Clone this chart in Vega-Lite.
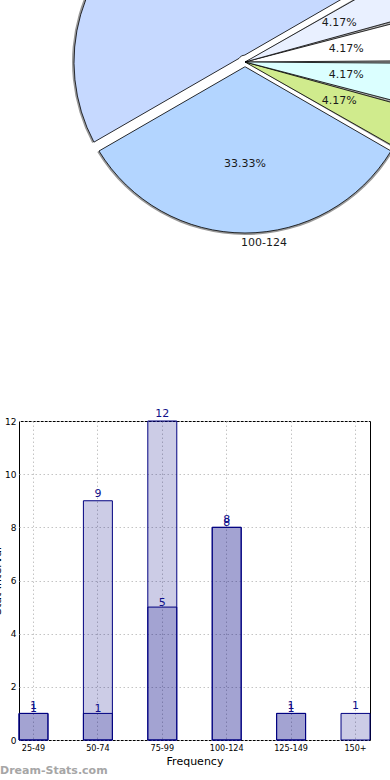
{
  "$schema": "https://vega.github.io/schema/vega-lite/v6.json",
  "background": "white",
  "padding": {"top": -297, "left": -9, "right": -81, "bottom": 0},
  "bounds": "flush",
  "spacing": 0,
  "config": {
    "font": "DejaVu Sans",
    "view": {"stroke": null},
    "axis": {"labelColor": "black", "titleColor": "black", "titleFontWeight": "normal"}
  },
  "datasets": {
    "pie": [
      {"range": "25-49", "n": 1, "pct": "4.17%"},
      {"range": "50-74", "n": 1, "pct": "4.17%"},
      {"range": "75-99", "n": 12, "pct": "50.00%"},
      {"range": "100-124", "n": 8, "pct": "33.33%"},
      {"range": "125-149", "n": 1, "pct": "4.17%"},
      {"range": "150+", "n": 1, "pct": "4.17%"}
    ],
    "bars": [
      {"range": "25-49", "a": 1, "b": 1},
      {"range": "50-74", "a": 9, "b": 1},
      {"range": "75-99", "a": 12, "b": 5},
      {"range": "100-124", "a": 8, "b": 8},
      {"range": "125-149", "a": 1, "b": 1},
      {"range": "150+", "a": 1, "b": null}
    ]
  },
  "vconcat": [
    {
      "width": 452,
      "height": 718,
      "data": {"name": "pie"},
      "transform": [
        {"window": [{"op": "row_number", "as": "k"}]},
        {"stack": "n", "groupby": [], "sort": [{"field": "k", "order": "descending"}], "as": ["t0", "t1"]}
      ],
      "layer": [
        {
          "transform": [{"filter": "datum.range === '75-99'"}],
          "mark": {"type": "arc", "outerRadius": 173, "innerRadius": 7, "padAngle": 0.0714, "fill": "#9a9a9a"},
          "encoding": {
            "theta": {"field": "t0", "type": "quantitative", "scale": {"range": [1.5708, 7.854], "zero": true, "nice": false}},
            "theta2": {"field": "t1"}
          }
        },
        {
          "transform": [{"filter": "datum.range === '100-124'"}],
          "mark": {"type": "arc", "outerRadius": 173, "innerRadius": 5, "padAngle": 0.0476, "fill": "#9a9a9a"},
          "encoding": {
            "theta": {"field": "t0", "type": "quantitative", "scale": {"range": [1.5708, 7.854], "zero": true, "nice": false}},
            "theta2": {"field": "t1"}
          }
        },
        {
          "transform": [{"filter": "datum.range !== '75-99' && datum.range !== '100-124'"}],
          "mark": {"type": "arc", "outerRadius": 173, "fill": "#9a9a9a"},
          "encoding": {
            "theta": {"field": "t0", "type": "quantitative", "scale": {"range": [1.5708, 7.854], "zero": true, "nice": false}},
            "theta2": {"field": "t1"}
          }
        },
        {
          "transform": [{"filter": "datum.range === '75-99'"}],
          "mark": {"type": "arc", "outerRadius": 171, "innerRadius": 7, "padAngle": 0.0714, "stroke": "black", "strokeWidth": 0.8},
          "encoding": {
            "theta": {"field": "t0", "type": "quantitative", "scale": {"range": [1.5708, 7.854], "zero": true, "nice": false}},
            "theta2": {"field": "t1"},
            "color": {"field": "range", "type": "nominal", "legend": null,
              "scale": {"domain": ["25-49", "50-74", "75-99", "100-124", "125-149", "150+"],
                        "range": ["#ffffff", "#e9f0ff", "#c6d9ff", "#b3d5ff", "#d0eb8d", "#dbffff"]}}
          }
        },
        {
          "transform": [{"filter": "datum.range === '100-124'"}],
          "mark": {"type": "arc", "outerRadius": 171, "innerRadius": 5, "padAngle": 0.0476, "stroke": "black", "strokeWidth": 0.8},
          "encoding": {
            "theta": {"field": "t0", "type": "quantitative", "scale": {"range": [1.5708, 7.854], "zero": true, "nice": false}},
            "theta2": {"field": "t1"},
            "color": {"field": "range", "type": "nominal", "legend": null}
          }
        },
        {
          "transform": [{"filter": "datum.range !== '75-99' && datum.range !== '100-124'"}],
          "mark": {"type": "arc", "outerRadius": 171, "padAngle": 0.015, "stroke": "black", "strokeWidth": 0.8},
          "encoding": {
            "theta": {"field": "t0", "type": "quantitative", "scale": {"range": [1.5708, 7.854], "zero": true, "nice": false}},
            "theta2": {"field": "t1"},
            "color": {"field": "range", "type": "nominal", "legend": null}
          }
        },
        {
          "mark": {"type": "text", "radius": 102, "fontSize": 11, "fill": "#1a1a1a"},
          "encoding": {
            "theta": {"field": "n", "type": "quantitative", "stack": true, "scale": {"range": [1.5708, 7.854], "zero": true, "nice": false}},
            "order": {"field": "k", "sort": "descending"},
            "text": {"field": "pct"}
          }
        },
        {
          "mark": {"type": "text", "radius": 181, "fontSize": 11, "fill": "#1a1a1a", "align": "left", "baseline": "middle", "dx": -4},
          "encoding": {
            "theta": {"field": "n", "type": "quantitative", "stack": true, "scale": {"range": [1.5708, 7.854], "zero": true, "nice": false}},
            "order": {"field": "k", "sort": "descending"},
            "text": {"field": "range"}
          }
        }
      ]
    },
    {
      "width": 351,
      "height": 319,
      "view": {"stroke": "black", "strokeWidth": 1},
      "data": {"name": "bars"},
      "title": {"text": "Dream-Stats.com", "orient": "bottom", "anchor": "start", "frame": "group", "dx": -19, "offset": -1, "fontSize": 11, "fontWeight": "bold", "color": "#a6a6a6"},
      "encoding": {
        "x": {
          "field": "range", "type": "nominal", "sort": null,
          "scale": {"paddingInner": 0.55, "paddingOuter": 0},
          "axis": {"title": "Frequency", "labelAngle": 0, "labelFontSize": 9, "labelFont": "DejaVu Sans Condensed", "ticks": false, "labelPadding": 3, "titleFontSize": 11, "titlePadding": 3, "grid": true, "gridDash": [1.5, 2.5], "gridColor": "#c4c4c4", "bandPosition": 0.5, "domain": false}
        }
      },
      "layer": [
        {
          "mark": {"type": "bar", "fill": "#000080", "fillOpacity": 0.2, "stroke": "#000080", "strokeWidth": 1},
          "encoding": {
            "y": {"field": "a", "type": "quantitative", "title": "Stat Interval",
              "scale": {"domain": [0, 12], "nice": false},
              "axis": {"values": [0, 2, 4, 6, 8, 10, 12], "labelFontSize": 9, "ticks": false, "labelPadding": 3, "titleFontSize": 11, "titlePadding": 2, "grid": true, "gridDash": [1.5, 2.5], "gridColor": "#c4c4c4", "domain": false}}
          }
        },
        {
          "transform": [{"filter": "datum.b != null"}],
          "mark": {"type": "bar", "fill": "#000080", "fillOpacity": 0.2, "stroke": "#000080", "strokeWidth": 1},
          "encoding": {"y": {"field": "b", "type": "quantitative", "title": "Stat Interval"}}
        },
        {
          "mark": {"type": "text", "baseline": "bottom", "dy": -2, "fontSize": 11, "fill": "#10108a"},
          "encoding": {"y": {"field": "a", "type": "quantitative", "title": "Stat Interval"}, "text": {"field": "a"}}
        },
        {
          "transform": [{"filter": "datum.b != null"}],
          "mark": {"type": "text", "baseline": "bottom", "dy": 1, "fontSize": 11, "fill": "#10108a"},
          "encoding": {"y": {"field": "b", "type": "quantitative", "title": "Stat Interval"}, "text": {"field": "b"}}
        }
      ]
    }
  ]
}
